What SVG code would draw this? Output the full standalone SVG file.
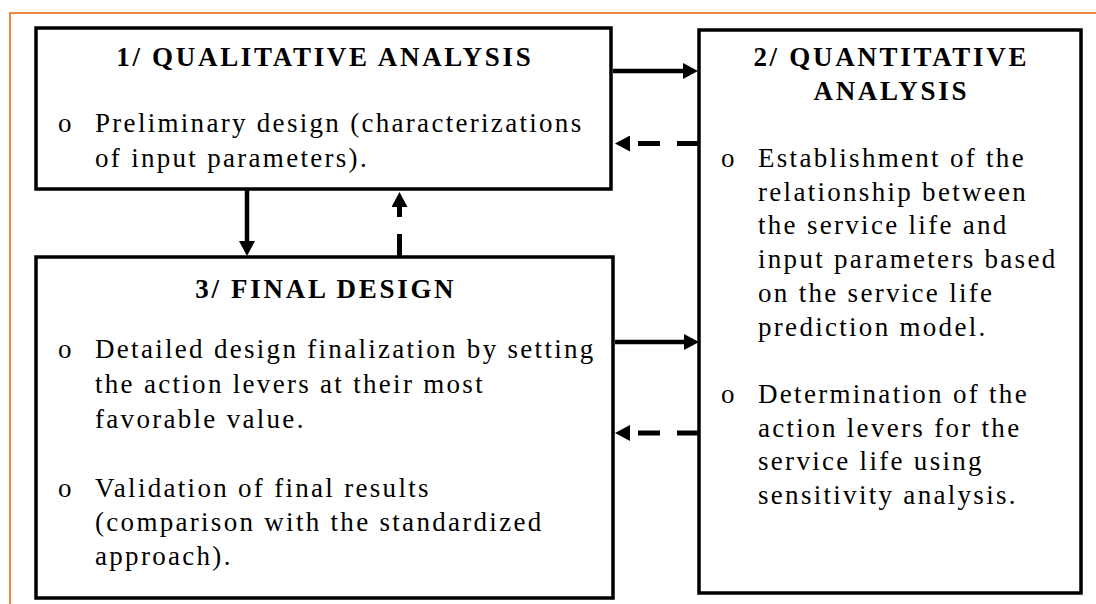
<svg xmlns="http://www.w3.org/2000/svg" width="1096" height="604" viewBox="0 0 1096 604">
<style>
.box{fill:#fff;stroke:#000;stroke-width:3.5}
.title{font-family:"Liberation Serif","Times New Roman",serif;font-size:27px;font-weight:bold;letter-spacing:2.7px;text-anchor:middle;fill:#000}
.body{font-family:"Liberation Serif","Times New Roman",serif;font-size:27px;letter-spacing:2.3px;fill:#000}
.bul{font-family:"Liberation Serif","Times New Roman",serif;font-size:27px;fill:#000}
.solid{stroke:#000;stroke-width:4.5;fill:none}
.dash{stroke:#000;stroke-width:5;fill:none;stroke-dasharray:22 17}
</style>
<defs>
<marker id="ah" viewBox="0 0 15 16" refX="0" refY="8" markerWidth="15" markerHeight="16" markerUnits="userSpaceOnUse" orient="auto">
<path d="M0,0 L15,8 L0,16 Z" fill="#000"/>
</marker>
</defs>
<rect x="0" y="0" width="1096" height="604" fill="#fff"/>
<g id="frame">
<path d="M10,604 L10,13 L1096,13" fill="none" stroke="#F0893E" stroke-width="2"/>
</g>
<g id="node1">
<rect class="box" x="36" y="28" width="575" height="161"/>
<text class="title" x="324.8" y="66">1/ QUALITATIVE ANALYSIS</text>
<text class="bul" x="58" y="132">o</text>
<text class="body" x="95" y="132">Preliminary design (characterizations</text>
<text class="body" x="95" y="167">of input parameters).</text>
</g>
<g id="node2">
<rect class="box" x="699" y="30" width="382" height="563"/>
<text class="title" x="891.3" y="66">2/ QUANTITATIVE</text>
<text class="title" x="891.3" y="100">ANALYSIS</text>
<text class="bul" x="721" y="167">o</text>
<text class="body" x="758" y="167">Establishment of the</text>
<text class="body" x="758" y="200.7">relationship between</text>
<text class="body" x="758" y="234.4">the service life and</text>
<text class="body" x="758" y="268">input parameters based</text>
<text class="body" x="758" y="301.8">on the service life</text>
<text class="body" x="758" y="335.5">prediction model.</text>
<text class="bul" x="721" y="403">o</text>
<text class="body" x="758" y="403">Determination of the</text>
<text class="body" x="758" y="436.7">action levers for the</text>
<text class="body" x="758" y="470.4">service life using</text>
<text class="body" x="758" y="504">sensitivity analysis.</text>
</g>
<g id="node3">
<rect class="box" x="36" y="257" width="577" height="341"/>
<text class="title" x="325.8" y="298">3/ FINAL DESIGN</text>
<text class="bul" x="58" y="358">o</text>
<text class="body" x="95" y="358">Detailed design finalization by setting</text>
<text class="body" x="95" y="393">the action levers at their most</text>
<text class="body" x="95" y="428">favorable value.</text>
<text class="bul" x="58" y="497">o</text>
<text class="body" x="95" y="497">Validation of final results</text>
<text class="body" x="95" y="531">(comparison with the standardized</text>
<text class="body" x="95" y="565">approach).</text>
</g>
<g id="connectors">
<line class="solid" x1="613" y1="71" x2="683" y2="71" marker-end="url(#ah)"/>
<line class="dash" x1="699" y1="143.5" x2="630" y2="143.5" marker-end="url(#ah)"/>
<line class="solid" x1="247" y1="190" x2="247" y2="241" marker-end="url(#ah)"/>
<line class="dash" x1="399.5" y1="256" x2="399.5" y2="207" marker-end="url(#ah)"/>
<line class="solid" x1="615" y1="342" x2="684" y2="342" marker-end="url(#ah)"/>
<line class="dash" x1="699" y1="433" x2="630" y2="433" marker-end="url(#ah)"/>
</g>
</svg>
